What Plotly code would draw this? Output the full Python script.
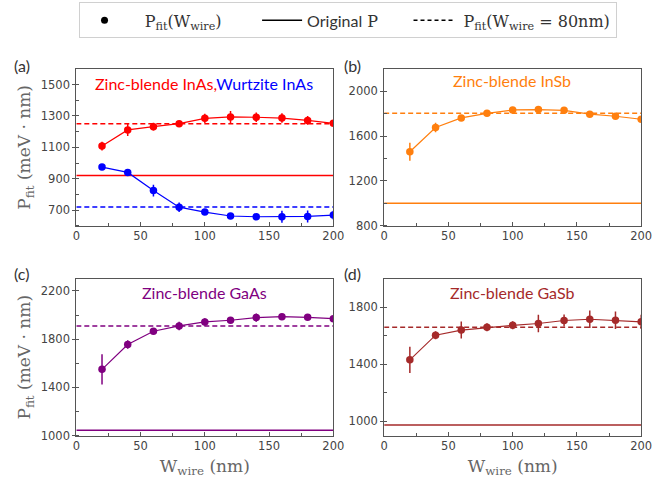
import plotly.graph_objects as go
from plotly.subplots import make_subplots

# ---------------- data ----------------
w_wire = [20, 40, 60, 80, 100, 120, 140, 160, 180, 200]

zb_inas = [1108, 1211, 1232, 1251, 1285, 1294, 1292, 1287, 1272, 1253]
zb_inas_err = [28, 38, 25, 15, 30, 38, 30, 30, 28, 15]
zb_inas_orig = 920
zb_inas_80 = 1251

wz_inas = [974, 940, 824, 718, 687, 662, 657, 657, 659, 668]
wz_inas_err = [8, 8, 38, 30, 12, 12, 10, 38, 38, 28]
wz_inas_80 = 720

zb_insb = [1461, 1677, 1763, 1804, 1834, 1837, 1831, 1796, 1778, 1751]
zb_insb_err = [80, 42, 18, 18, 20, 18, 18, 18, 15, 15]
zb_insb_orig = 1000
zb_insb_80 = 1804

zb_gaas = [1550, 1756, 1866, 1910, 1943, 1957, 1979, 1987, 1981, 1970]
zb_gaas_err = [125, 35, 12, 35, 30, 25, 35, 12, 12, 12]
zb_gaas_orig = 1045
zb_gaas_80 = 1910

zb_gasb = [1432, 1605, 1641, 1660, 1674, 1687, 1708, 1717, 1710, 1699]
zb_gasb_err = [92, 28, 60, 28, 28, 62, 42, 62, 62, 50]
zb_gasb_orig = 975
zb_gasb_80 = 1660

# ---------------- styling ----------------
RED = "#ff0000"
BLUE = "#0000ff"
ORANGE = "#ff7f0e"
PURPLE = "#800080"
BROWN = "#a52a2a"

SANS = "Lato"
SERIF = "DejaVu Serif"

fig = make_subplots(rows=2, cols=2, horizontal_spacing=0.08, vertical_spacing=0.1)


def add_series(y, err, color, row, col):
    fig.add_trace(go.Scatter(
        x=w_wire, y=y, mode="lines+markers",
        line=dict(color=color, width=1.2),
        marker=dict(color=color, size=7.5),
        error_y=dict(type="data", array=err, visible=True, color=color,
                     thickness=1.5, width=0),
        showlegend=False, hoverinfo="skip"), row=row, col=col)


def add_orig(orig, color, row, col):
    fig.add_trace(go.Scatter(x=[0, 200], y=[orig, orig], mode="lines",
                             line=dict(color=color, width=1.5),
                             showlegend=False, hoverinfo="skip"), row=row, col=col)


def add_p80(p80, color, row, col):
    fig.add_trace(go.Scatter(x=[0, 200], y=[p80, p80], mode="lines",
                             line=dict(color=color, width=1.5, dash="5px,3px"),
                             showlegend=False, hoverinfo="skip"), row=row, col=col)


add_orig(zb_inas_orig, RED, 1, 1)
add_p80(zb_inas_80, RED, 1, 1)
add_p80(wz_inas_80, BLUE, 1, 1)
add_series(zb_inas, zb_inas_err, RED, 1, 1)
add_series(wz_inas, wz_inas_err, BLUE, 1, 1)

add_orig(zb_insb_orig, ORANGE, 1, 2)
add_p80(zb_insb_80, ORANGE, 1, 2)
add_series(zb_insb, zb_insb_err, ORANGE, 1, 2)

add_orig(zb_gaas_orig, PURPLE, 2, 1)
add_p80(zb_gaas_80, PURPLE, 2, 1)
add_series(zb_gaas, zb_gaas_err, PURPLE, 2, 1)

add_orig(zb_gasb_orig, BROWN, 2, 2)
add_p80(zb_gasb_80, BROWN, 2, 2)
add_series(zb_gasb, zb_gasb_err, BROWN, 2, 2)

# legend dummies
NB = "&nbsp;"
fig.add_trace(go.Scatter(x=[None], y=[None], mode="markers",
                         marker=dict(color="black", size=7),
                         name=NB * 3 + "P<sub>fit</sub>(W<sub>wire</sub>)" + NB * 6), row=1, col=1)
fig.add_trace(go.Scatter(x=[None], y=[None], mode="lines",
                         line=dict(color="black", width=1.5),
                         name="<span style='font-family:Lato'>Original</span> P" + NB * 5), row=1, col=1)
fig.add_trace(go.Scatter(x=[None], y=[None], mode="lines",
                         line=dict(color="black", width=1.5, dash="4px,3px"),
                         name=NB + "P<sub>fit</sub>(W<sub>wire</sub> = 80nm)"), row=1, col=1)

# domains
W, H = 660, 485
xd = [[74 / W, 337 / W], [389 / W, 652 / W]]
yd = [[1 - 229 / H, 1 - 70 / H], [1 - 442 / H, 1 - 283 / H]]

yranges = {(1, 1): [600, 1600], (1, 2): [800, 2200], (2, 1): [1000, 2300], (2, 2): [900, 2000]}
yticks = {(1, 1): (700, 200), (1, 2): (800, 400), (2, 1): (1000, 400), (2, 2): (1000, 400)}

axcol = "#555555"
tickfont = dict(family="DejaVu Sans", size=11.5, color="#444444")
for r in (1, 2):
    for c in (1, 2):
        fig.update_xaxes(domain=xd[c - 1], range=[0, 200], tick0=0, dtick=50,
                         ticks="inside", ticklen=4, tickcolor=axcol,
                         minor=dict(dtick=25, ticks="inside", ticklen=3, tickcolor=axcol),
                         showline=True, linecolor=axcol, linewidth=1, mirror=True,
                         showgrid=False, zeroline=False, tickfont=tickfont,
                         row=r, col=c)
        t0, dt = yticks[(r, c)]
        fig.update_yaxes(domain=yd[r - 1], range=yranges[(r, c)], tick0=t0, dtick=dt,
                         ticks="outside", ticklen=3, tickcolor=axcol,
                         minor=dict(dtick=dt / 2, ticks="inside", ticklen=3, tickcolor=axcol),
                         showline=True, linecolor=axcol, linewidth=1, mirror=True,
                         showgrid=False, zeroline=False, tickfont=tickfont,
                         row=r, col=c)

titlefont = dict(family=SERIF, size=17, color="#666666")
for c in (1, 2):
    fig.update_xaxes(title=dict(text="W<sub>wire</sub> (nm)", font=titlefont, standoff=7), row=2, col=c)
for r in (1, 2):
    fig.update_yaxes(title=dict(text="P<sub>fit</sub> (meV · nm)", font=titlefont, standoff=5), row=r, col=1)

# annotations
ann = []
ann.append(dict(x=205 / W, y=1 - 85 / H,
                text=f"<span style='color:{RED}'>Zinc-blende InAs,</span><span style='color:{BLUE}'>Wurtzite InAs</span>",
                font=dict(family=SANS, size=16)))
ann.append(dict(x=520 / W, y=1 - 82 / H, text="Zinc-blende InSb", font=dict(family=SANS, size=16, color=ORANGE)))
ann.append(dict(x=205 / W, y=1 - 297 / H, text="Zinc-blende GaAs", font=dict(family=SANS, size=16, color=PURPLE)))
ann.append(dict(x=520 / W, y=1 - 297 / H, text="Zinc-blende GaSb", font=dict(family=SANS, size=16, color=BROWN)))
for lab, px, py in [("(a)", 18, 66), ("(b)", 357, 66), ("(c)", 18, 278), ("(d)", 357, 278)]:
    ann.append(dict(x=px / W, y=1 - py / H, text=lab, font=dict(family=SANS, size=16, color="#333333")))
for a in ann:
    a.update(xref="paper", yref="paper", showarrow=False, xanchor="center", yanchor="middle")

fig.update_layout(
    width=W, height=H,
    margin=dict(l=0, r=0, t=0, b=0),
    paper_bgcolor="white", plot_bgcolor="white",
    annotations=ann,
    legend=dict(orientation="h", x=351.5 / W, xanchor="center", y=0.995, yanchor="top",
                bordercolor="#d0d0d0", borderwidth=1,
                font=dict(family=SERIF, size=16, color="#333333"),
                itemwidth=40),
)

fig.write_html("out.html")
